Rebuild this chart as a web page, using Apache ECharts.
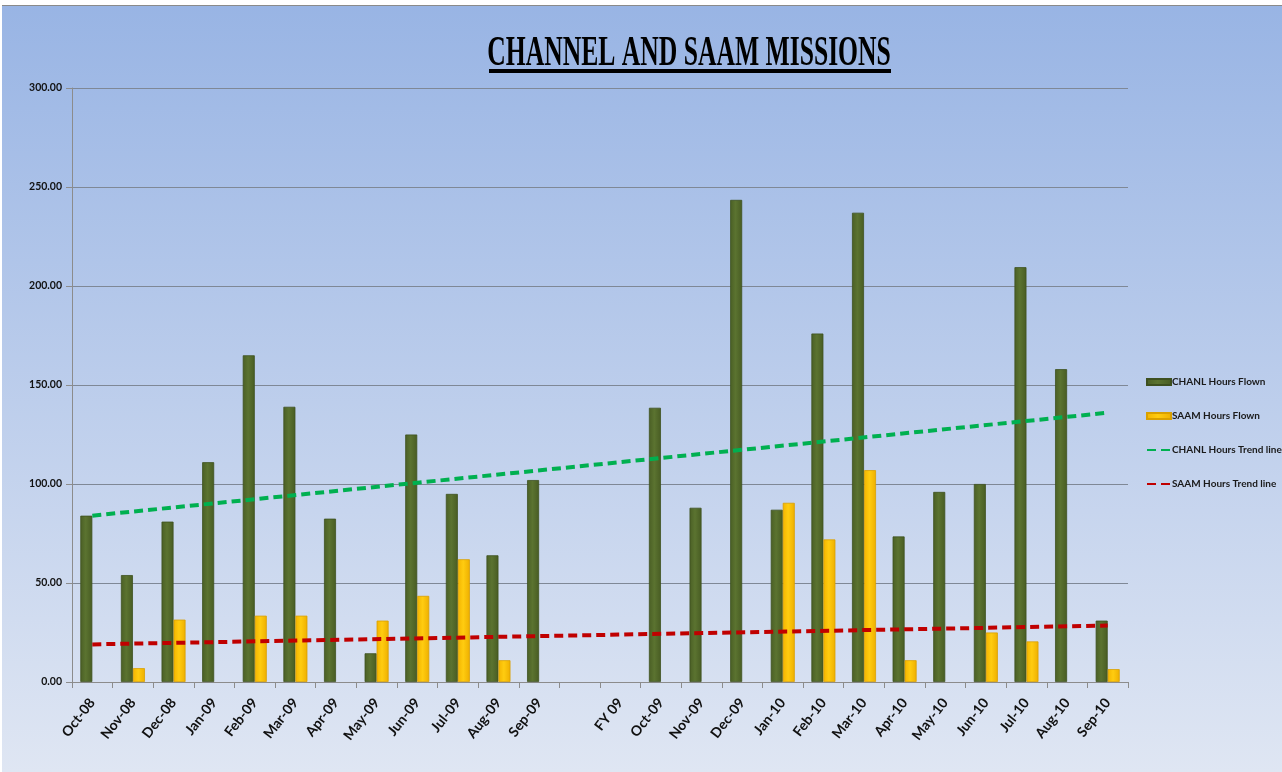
<!DOCTYPE html>
<html>
<head>
<meta charset="utf-8">
<script src="https://cdn.jsdelivr.net/npm/echarts@6/dist/echarts.min.js"></script>
<style>
html,body{margin:0;padding:0;background:#fff;}
#chart{width:1282px;height:772px;}
</style>
</head>
<body>
<div id="chart"></div>
<script>
const categories = ['Oct-08','Nov-08','Dec-08','Jan-09','Feb-09','Mar-09','Apr-09','May-09','Jun-09','Jul-09','Aug-09','Sep-09','','FY 09','Oct-09','Nov-09','Dec-09','Jan-10','Feb-10','Mar-10','Apr-10','May-10','Jun-10','Jul-10','Aug-10','Sep-10'];
const chanlHours = [84, 54, 81, 111, 165, 139, 82.5, 14.5, 125, 95, 64, 102, null, null, 138.5, 88, 243.5, 87, 176, 237, 73.5, 96, 100, 209.5, 158, 31];
const saamHours = [null, 7, 31.5, null, 33.5, 33.5, null, 31, 43.5, 62, 11, null, null, null, null, null, null, 90.5, 72, 107, 11, null, 25, 20.5, null, 6.5];
// trend lines: only the endpoints, joined straight
const chanlTrend = [84, null, null, null, null, null, null, null, null, null, null, null, null, null, null, null, null, null, null, null, null, null, null, null, null, 136];
const saamTrend = [19, null, null, null, null, null, null, null, null, null, null, null, null, null, null, null, null, null, null, null, null, null, null, null, null, 28.5];
const yTicks = [0, 50, 100, 150, 200, 250, 300];
const titleText = 'CHANNEL AND SAAM MISSIONS';

const chart = echarts.init(document.getElementById('chart'), null, {renderer: 'canvas'});
const option = {
  backgroundColor: {
    type: 'linear', x: 0, y: 0, x2: 0, y2: 1,
    colorStops: [{offset: 0, color: '#98b4e4'}, {offset: 1, color: '#dfe6f3'}]
  },
  animation: false,
  graphic: [
    {type: 'rect', left: 0, top: 0, shape: {width: 1282, height: 5}, style: {fill: '#ffffff'}},
    {type: 'rect', left: 0, top: 5, shape: {width: 1282, height: 1}, style: {fill: '#8a8a8a'}},
    {type: 'rect', left: 0, top: 0, shape: {width: 2, height: 772}, style: {fill: '#ffffff'}},
    {
      type: 'text', x: 689, y: 54, scaleX: 0.61,
      style: {
        text: titleText, fill: '#000', font: 'bold 42px "Liberation Serif", serif',
        align: 'center', verticalAlign: 'middle'
      }
    },
    {type: 'rect', left: 489, top: 69, shape: {width: 402, height: 4}, style: {fill: '#000'}}
  ],
  grid: {left: 72, right: 154, top: 88, bottom: 90, containLabel: false},
  legend: {
    orient: 'vertical', left: 1141, top: 372, itemGap: 24, itemWidth: 24, itemHeight: 6,
    textStyle: {fontFamily: 'Lato, "Liberation Sans", sans-serif', fontSize: 10, fontWeight: 'bold', color: '#1a1a1a', padding: [0, 0, 0, -4]},
    data: [
      {name: 'CHANL Hours Flown', icon: 'rect'},
      {name: 'SAAM Hours Flown', icon: 'rect'},
      {name: 'CHANL Hours Trend line', itemStyle: {opacity: 0}},
      {name: 'SAAM Hours Trend line', itemStyle: {opacity: 0}}
    ]
  },
  xAxis: {
    type: 'category', data: categories, boundaryGap: true,
    axisLine: {lineStyle: {color: '#8c8c8c', width: 1}},
    axisTick: {show: true, length: 6, interval: 0, lineStyle: {color: '#8c8c8c'}},
    axisLabel: {
      rotate: 52, interval: 0, margin: 18, color: '#111',
      fontFamily: 'Lato, "Liberation Sans", sans-serif', fontSize: 14, fontWeight: 'bold'
    },
    splitLine: {show: false}
  },
  yAxis: {
    type: 'value', min: 0, max: 300, interval: 50,
    axisLine: {show: true, lineStyle: {color: '#8c8c8c'}},
    axisTick: {show: true, length: 6, lineStyle: {color: '#8c8c8c'}},
    axisLabel: {
      margin: 10, color: '#111', fontSize: 10.5, fontWeight: 'bold',
      fontFamily: 'Lato, "Liberation Sans", sans-serif',
      formatter: v => yTicks.includes(v) ? v.toFixed(2) : ''
    },
    splitLine: {show: true, lineStyle: {color: '#7f8896', width: 1}}
  },
  series: [
    {
      name: 'CHANL Hours Flown', type: 'bar', data: chanlHours,
      barWidth: 12, barGap: '0%',
      itemStyle: {
        color: {type: 'linear', x: 0, y: 0, x2: 1, y2: 0,
          colorStops: [{offset: 0, color: '#4a5f25'}, {offset: 0.45, color: '#5b7330'}, {offset: 1, color: '#485c23'}]},
        borderColor: '#3e5020', borderWidth: 0.8
      }
    },
    {
      name: 'SAAM Hours Flown', type: 'bar', data: saamHours,
      barWidth: 12, barGap: '0%',
      itemStyle: {
        color: {type: 'linear', x: 0, y: 0, x2: 1, y2: 0,
          colorStops: [{offset: 0, color: '#f3b400'}, {offset: 0.45, color: '#ffcc10'}, {offset: 1, color: '#eeaf00'}]},
        borderColor: '#d9a000', borderWidth: 0.8
      }
    },
    {
      name: 'CHANL Hours Trend line', type: 'line', data: chanlTrend, connectNulls: true,
      symbol: 'none', z: 5,
      lineStyle: {color: '#00b050', width: 4, type: [9, 5]},
      itemStyle: {color: '#00b050'}
    },
    {
      name: 'SAAM Hours Trend line', type: 'line', data: saamTrend, connectNulls: true,
      symbol: 'none', z: 5,
      lineStyle: {color: '#c00000', width: 4, type: [9, 5]},
      itemStyle: {color: '#c00000'}
    }
  ]
};
chart.setOption(option);
</script>
</body>
</html>
